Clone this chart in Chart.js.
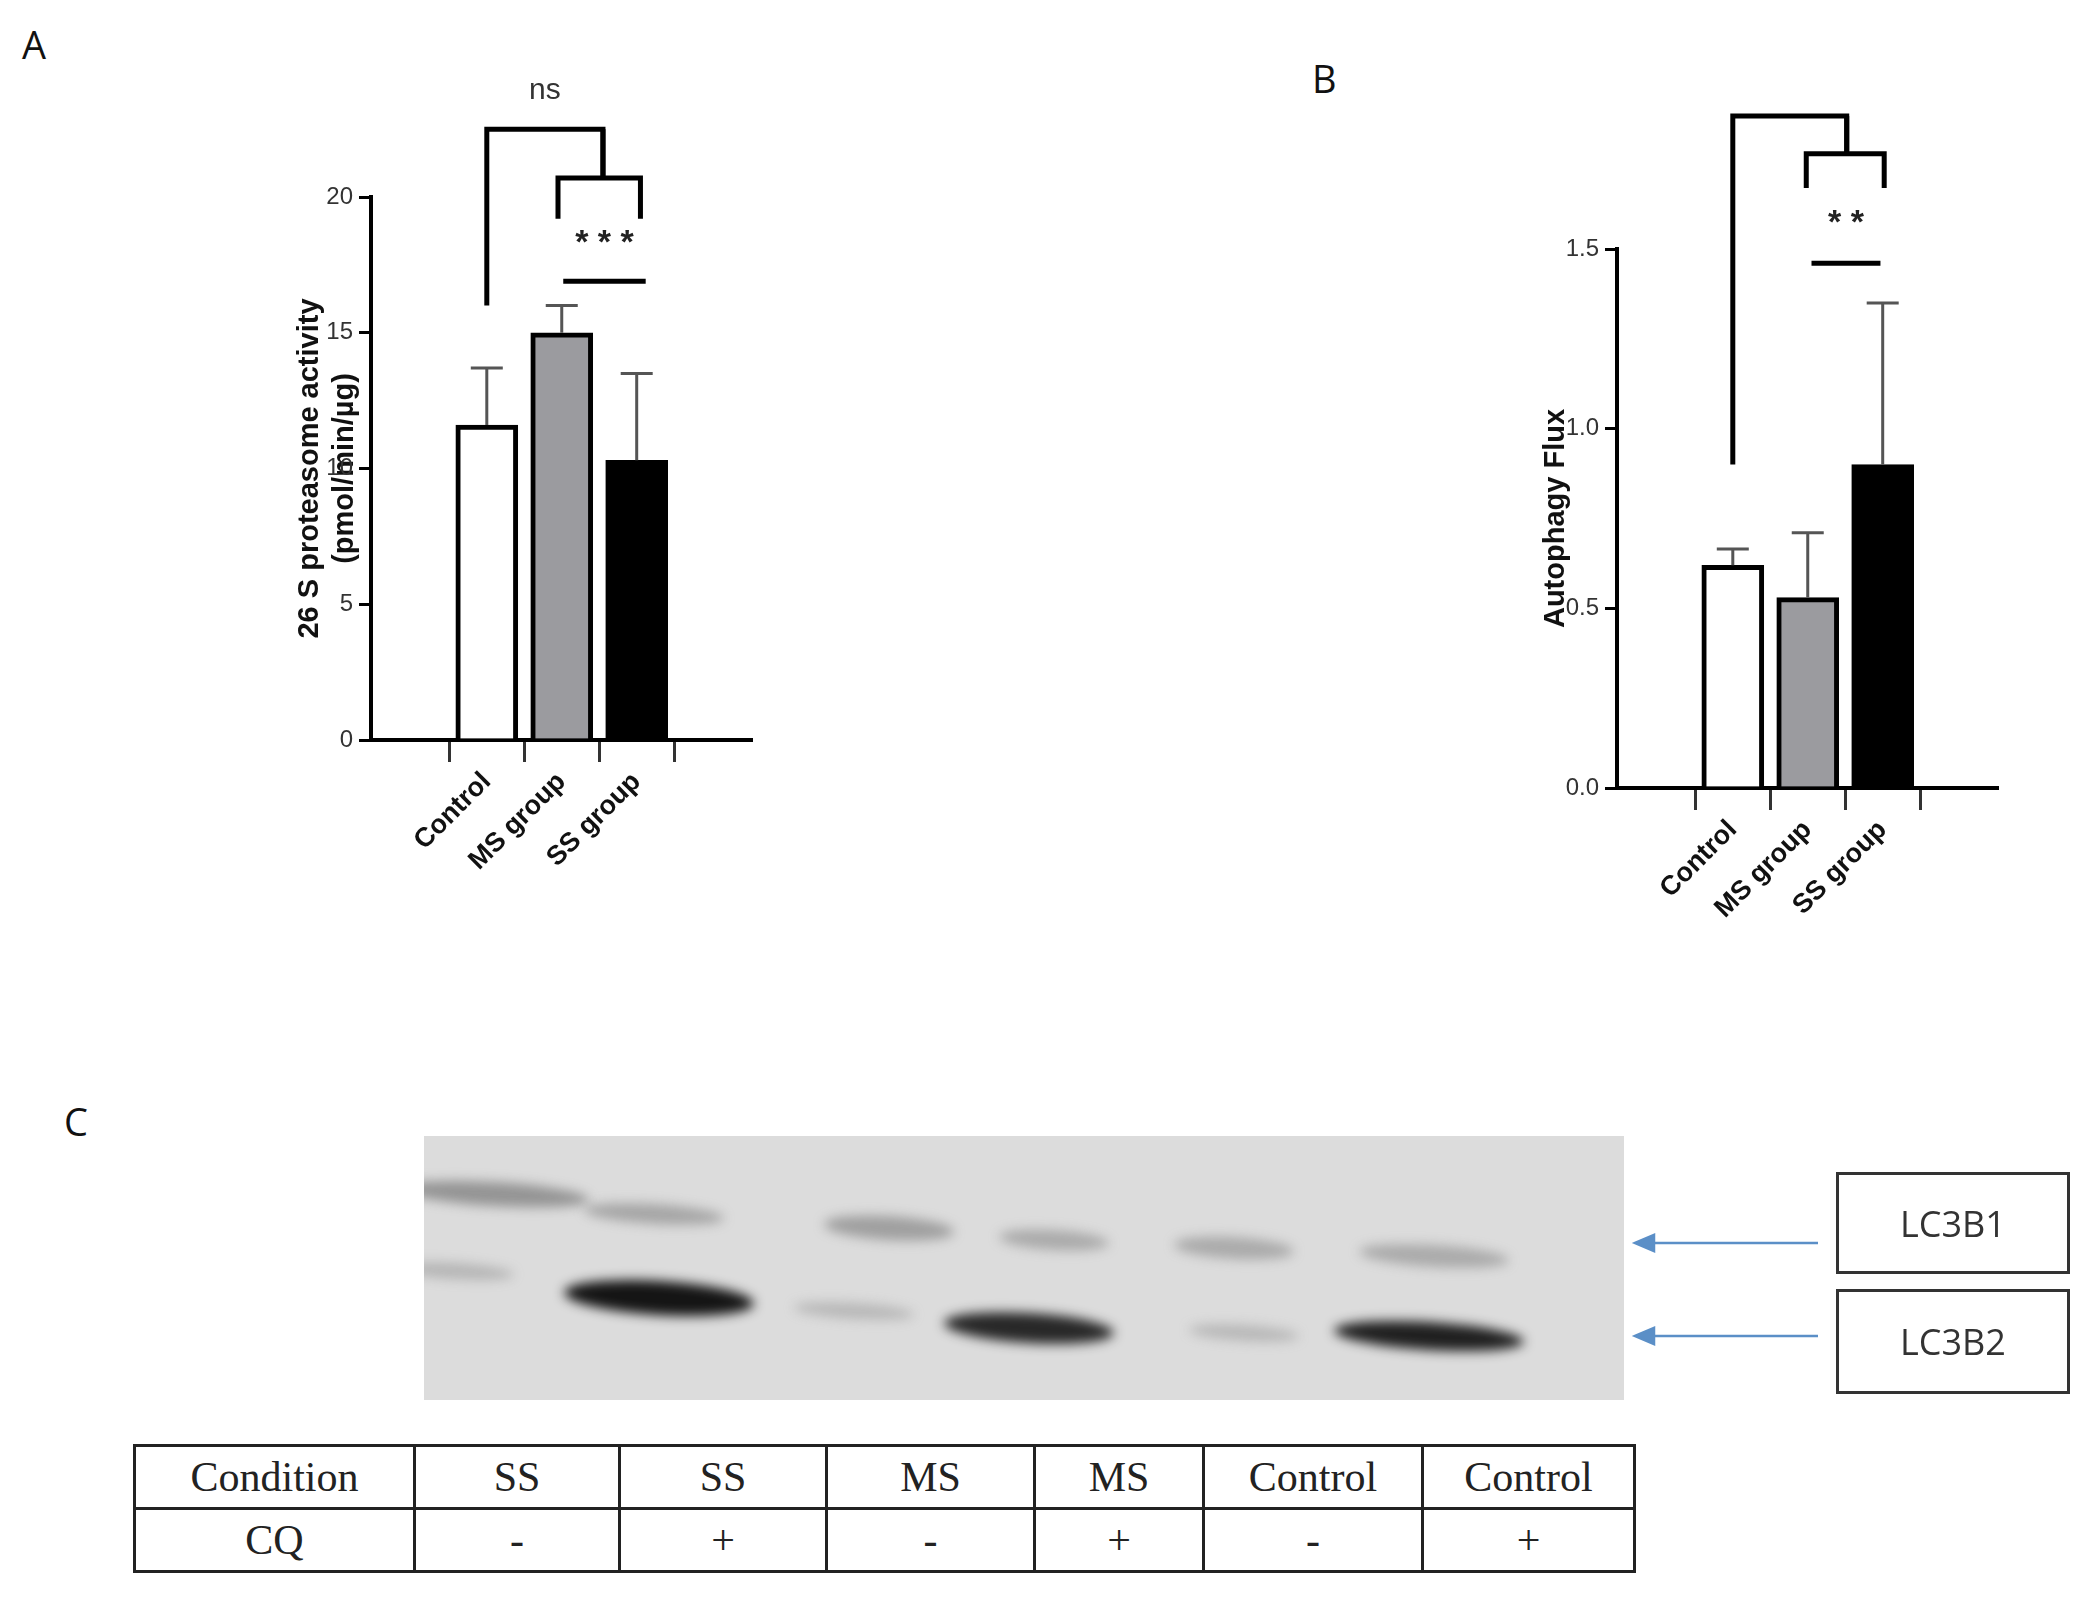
<!DOCTYPE html>
<html><head><meta charset="utf-8">
<script src="https://cdn.jsdelivr.net/npm/chart.js@4"></script>
<style>
  body { margin: 0; width: 2096px; height: 1602px; background: #fff; position: relative; overflow: hidden; font-family: "Liberation Sans", Arial, sans-serif; }
  .abs { position: absolute; }
  .letter { font-family: "Open Sans", "DejaVu Sans", sans-serif; font-size: 38px; color: #111; }
  table.cond { border-collapse: collapse; font-family: "Liberation Serif", "Times New Roman", serif; font-size: 42px; color: #222; }
  table.cond td { border: 3px solid #222; text-align: center; padding: 0; height: 60px; }
  .lab { border: 3px solid #333; font-family: "Open Sans", sans-serif; font-size: 36px; color: #333; display: flex; align-items: center; justify-content: center; box-sizing: border-box; }
</style>
</head><body>
<div class="abs letter" style="left:22px;top:18px">A</div>
<div class="abs letter" style="left:1312px;top:52px">B</div>
<div class="abs letter" style="left:64px;top:1095px">C</div>

<div class="abs" style="left:291px;top:37px;width:470px;height:903px"><canvas id="ca"></canvas></div>
<div class="abs" style="left:1537px;top:89px;width:470px;height:899px"><canvas id="cb"></canvas></div>

<canvas id="blot" class="abs" width="1200" height="264" style="left:424px;top:1136px"></canvas>
<svg class="abs" style="left:1620px;top:1220px" width="220" height="140">
  <g stroke="#5b8fc7" stroke-width="2.5" fill="#5b8fc7">
    <line x1="198" y1="23" x2="25" y2="23"/><polygon points="15,23 34,15 34,31"/>
    <line x1="198" y1="116" x2="25" y2="116"/><polygon points="15,116 34,108 34,124"/>
  </g>
</svg>
<div class="abs lab" style="left:1836px;top:1172px;width:234px;height:102px">LC3B1</div>
<div class="abs lab" style="left:1836px;top:1289px;width:234px;height:105px">LC3B2</div>

<table class="cond abs" style="left:133px;top:1444px;width:1503px">
  <tr><td style="width:277px">Condition</td><td style="width:202px">SS</td><td style="width:204px">SS</td><td style="width:205px">MS</td><td style="width:166px">MS</td><td style="width:216px">Control</td><td>Control</td></tr>
  <tr><td>CQ</td><td>-</td><td>+</td><td>-</td><td>+</td><td>-</td><td>+</td></tr>
</table>

<script>
const GROUPS = ["Control", "MS group", "SS group"];
const FILLS = ["#ffffff", "#9b9b9f", "#000000"];
const A_MEAN = [11.6, 15.0, 10.3];
const A_ERR = [13.7, 16.0, 13.5];
const A_TICKS = [0, 5, 10, 15, 20];
const B_MEAN = [0.62, 0.53, 0.90];
const B_ERR = [0.665, 0.71, 1.35];
const B_TICKS = [0, 0.5, 1.0, 1.5];
// brackets: [x1, x2, yTop, yLeftEnd, yRightEnd]
const A_BRACKETS = [[0, 1.55, 22.5, 16.0, 20.7], [0.95, 2.05, 20.7, 19.2, 19.2]];
const A_STAR = { x1: 1.02, x2: 2.12, y: 16.9, label: "* * *", ly: 18.3, ns: 23.9 };
const B_BRACKETS = [[0, 1.52, 1.87, 0.9, 1.765], [0.98, 2.02, 1.765, 1.67, 1.67]];
const B_STAR = { x1: 1.05, x2: 1.97, y: 1.46, label: "* *", ly: 1.57, ns: 1.99 };

const FONT = "'Liberation Sans', Arial, sans-serif";

const annot = {
  id: "annot",
  afterDatasetsDraw(chart, args, o) {
    const { ctx, scales: { x, y } } = chart;
    ctx.save();
    ctx.lineCap = "butt";
    // error bars
    ctx.strokeStyle = "#555"; ctx.lineWidth = 3;
    o.err.forEach((e, i) => {
      const px = x.getPixelForValue(i), top = y.getPixelForValue(e), base = y.getPixelForValue(o.mean[i]);
      ctx.beginPath(); ctx.moveTo(px, base); ctx.lineTo(px, top);
      ctx.moveTo(px - 16, top); ctx.lineTo(px + 16, top); ctx.stroke();
    });
    // brackets
    ctx.strokeStyle = "#000"; ctx.lineWidth = 5; ctx.lineJoin = "miter";
    o.brackets.forEach(([a, b, t, l, r]) => {
      ctx.beginPath();
      ctx.moveTo(x.getPixelForValue(a), y.getPixelForValue(l));
      ctx.lineTo(x.getPixelForValue(a), y.getPixelForValue(t));
      ctx.lineTo(x.getPixelForValue(b), y.getPixelForValue(t));
      ctx.lineTo(x.getPixelForValue(b), y.getPixelForValue(r));
      ctx.stroke();
    });
    // middle riser of outer bracket
    const [ob, ib] = o.brackets;
    ctx.beginPath();
    ctx.moveTo(x.getPixelForValue(ob[1]), y.getPixelForValue(ob[2]));
    ctx.lineTo(x.getPixelForValue(ob[1]), y.getPixelForValue(ib[2]));
    ctx.stroke();
    const s = o.star;
    ctx.beginPath();
    ctx.moveTo(x.getPixelForValue(s.x1), y.getPixelForValue(s.y));
    ctx.lineTo(x.getPixelForValue(s.x2), y.getPixelForValue(s.y));
    ctx.stroke();
    ctx.fillStyle = "#222"; ctx.textAlign = "center"; ctx.textBaseline = "middle";
    ctx.font = "bold 34px " + FONT;
    ctx.fillText(s.label, x.getPixelForValue((s.x1 + s.x2) / 2), y.getPixelForValue(s.ly));
    ctx.font = "30px " + FONT; ctx.fillStyle = "#333";
    ctx.fillText("ns", x.getPixelForValue(ob[0] + (ob[1] - ob[0]) / 2), y.getPixelForValue(s.ns));
    ctx.restore();
  },
};

function makeChart(id, mean, err, ticks, ymax, title, brackets, star, xmin, xmax) {
  new Chart(document.getElementById(id), {
    type: "bar",
    data: {
      datasets: [{
        data: mean.map((v, i) => ({ x: i, y: v })),
        backgroundColor: FILLS, borderColor: "#000", borderWidth: 5,
        barThickness: 62, borderSkipped: "bottom",
      }],
    },
    plugins: [annot],
    options: {
      responsive: true, maintainAspectRatio: false, animation: false,
      layout: { padding: { top: ymax > 2 ? 160 : 160, right: 10 } },
      plugins: { legend: { display: false }, tooltip: { enabled: false },
        annot: { mean, err, brackets, star } },
      scales: {
        x: {
          type: "linear", min: xmin, max: xmax,
          afterBuildTicks: (s) => { s.ticks = GROUPS.map((_, i) => ({ value: i })); },
          afterFit: (s) => { s.height = 200; },
          grid: { display: true, drawOnChartArea: false, color: "#000", lineWidth: 3, tickLength: 22, tickColor: "#333" },
          border: { color: "#000", width: 4 },
          ticks: { callback: (v) => GROUPS[v], maxRotation: 45, minRotation: 45, color: "#111",
            font: { family: FONT, size: 27, weight: "bold" }, padding: 4 },
        },
        y: {
          min: 0, max: ymax,
          afterBuildTicks: (s) => { s.ticks = ticks.map((v) => ({ value: v })); },
          afterFit: (s) => { s.width = 80; },
          grid: { display: true, drawOnChartArea: false, color: "#000", lineWidth: 3, tickLength: 12 },
          border: { color: "#000", width: 4 },
          ticks: { color: "#333", font: { family: FONT, size: 24 }, padding: 6,
            callback: (v) => ymax > 2 ? v : v.toFixed(1) },
          title: { display: true, text: title, color: "#111", font: { family: FONT, size: 29, weight: "bold" }, padding: 2 },
        },
      },
    },
  });
}

makeChart("ca", A_MEAN, A_ERR, A_TICKS, 20, ["26 S proteasome activity", "(pmol/min/µg)"], A_BRACKETS, A_STAR, -0.7, 2.68);
makeChart("cb", B_MEAN, B_ERR, B_TICKS, 1.5, "Autophagy Flux", B_BRACKETS, B_STAR, -0.7, 2.68);

// blot image backdrop (photograph-like, not chart data)
const bc = document.getElementById("blot").getContext("2d");
bc.fillStyle = "#dcdcdc"; bc.fillRect(0, 0, 1200, 264);
bc.filter = "blur(6px)";
const bands = [
  [70, 58, 95, 12, "rgba(90,90,90,.55)"], [230, 78, 70, 10, "rgba(100,100,100,.45)"],
  [465, 92, 65, 12, "rgba(100,100,100,.5)"], [630, 104, 55, 10, "rgba(110,110,110,.45)"],
  [810, 112, 60, 11, "rgba(110,110,110,.45)"], [1010, 120, 75, 11, "rgba(110,110,110,.45)"],
  [30, 135, 60, 8, "rgba(110,110,110,.35)"], [235, 162, 95, 17, "rgba(10,10,10,.95)"],
  [430, 175, 60, 8, "rgba(130,130,130,.4)"], [605, 192, 85, 15, "rgba(20,20,20,.9)"],
  [820, 197, 55, 8, "rgba(130,130,130,.4)"], [1005, 200, 95, 14, "rgba(15,15,15,.92)"],
];
bands.forEach(([cx, cy, rx, ry, c]) => {
  bc.fillStyle = c; bc.beginPath(); bc.ellipse(cx, cy, rx, ry, 0.06, 0, Math.PI * 2); bc.fill();
});
</script>
</body></html>
